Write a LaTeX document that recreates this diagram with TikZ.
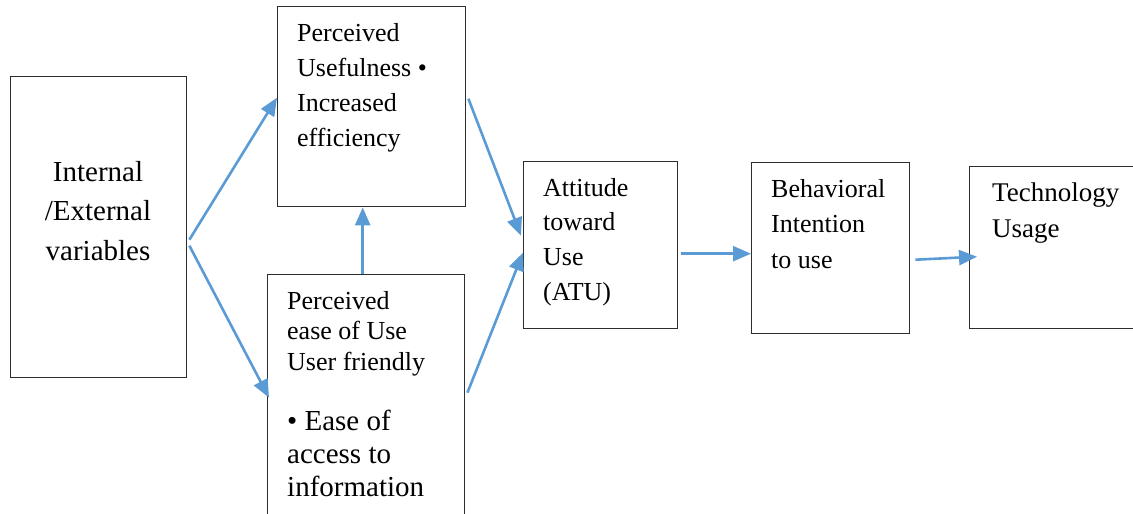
\documentclass[tikz,border=0pt]{standalone}
\usepackage{fontspec}
\setmainfont{Liberation Serif}
\newfontfamily\labelface{Liberation Serif}
\usetikzlibrary{arrows.meta}
\definecolor{flowblue}{RGB}{91,155,213}
\definecolor{boxline}{RGB}{45,45,45}
\tikzset{
  box/.style={draw=boxline, line width=1.4pt, anchor=north west, inner sep=0pt, fill=none},
  flowtip/.tip={Triangle[length=18pt,width=15pt]},
  flow/.style={draw=flowblue, line width=2.6pt, -flowtip},
  txt/.style={inner sep=0pt, anchor=north west, align=left, text=black},
}
% first-line strut so that the top of each text node sits a fixed distance above its first baseline
\newcommand{\firstA}{\rule{0pt}{20pt}}
\newcommand{\firstB}{\rule{0pt}{22pt}}
\begin{document}
\begin{tikzpicture}[x=1pt, y=-1pt]
\useasboundingbox (0,0) rectangle (1133,514);
\clip (0,0) rectangle (1133,514);

% boxes
\node[box, minimum width=176pt, minimum height=301pt] (ext)  at (10,76)  {};
\node[box, minimum width=188pt, minimum height=200pt] (pu)   at (277,6)  {};
\node[box, minimum width=197pt, minimum height=260pt] (peou) at (267,274) {};
\node[box, minimum width=154pt, minimum height=167pt] (atu)  at (523,161) {};
\node[box, minimum width=158pt, minimum height=171pt] (bi)   at (751,162) {};
\node[box, minimum width=190pt, minimum height=162pt] (tu)   at (969,166) {};

% texts
\node[txt, anchor=north, align=center, font=\labelface\fontsize{29}{39.5}\selectfont] (extT) at (98,159)
  {\firstB Internal\\/External\\variables};
\node[txt, font=\labelface\fontsize{26}{35}\selectfont] (puT) at (297,21.7)
  {\firstA Perceived\\Usefulness •\\Increased\\efficiency};
\node[txt, font=\labelface\fontsize{26}{30.5}\selectfont] (peouT) at (287,289)
  {\firstA Perceived\\ease of Use\\User friendly};
\node[txt, font=\labelface\fontsize{29}{33}\selectfont] (peouB) at (287,408)
  {\firstB • Ease of\\access to\\information};
\node[txt, font=\labelface\fontsize{26}{34.7}\selectfont] (atuT) at (543,176)
  {\firstA Attitude\\toward\\Use\\(ATU)};
\node[txt, font=\labelface\fontsize{26}{35.5}\selectfont] (biT) at (771,177)
  {\firstA Behavioral\\Intention\\to use};
\node[txt, font=\labelface\fontsize{27}{36}\selectfont] (tuT) at (992,181)
  {\firstA Technology\\Usage};

% connectors
\draw[flow] ([shift={(2,12.5)}]ext.east) -- ([shift={(0,-9)}]pu.west);
\draw[flow] ([shift={(2,18.5)}]ext.east) -- ([shift={(2,-7)}]peou.west);
\draw[flow] ([xshift=-3.5pt]peou.north) -- ([xshift=-3.5pt]peou.north |- pu.south);
\draw[flow] ([shift={(2,-8)}]pu.east) -- ([shift={(-2,-9.5)}]atu.west);
\draw[flow] ([shift={(2,-12)}]peou.east) -- ([shift={(0,7.5)}]atu.west);
\draw[flow] ([shift={(3,8.5)}]atu.east) -- ([shift={(0,5.5)}]bi.west);
\draw[flow] ([shift={(5,11.5)}]bi.east) -- ([shift={(8,9)}]tu.west);
\end{tikzpicture}
\end{document}
